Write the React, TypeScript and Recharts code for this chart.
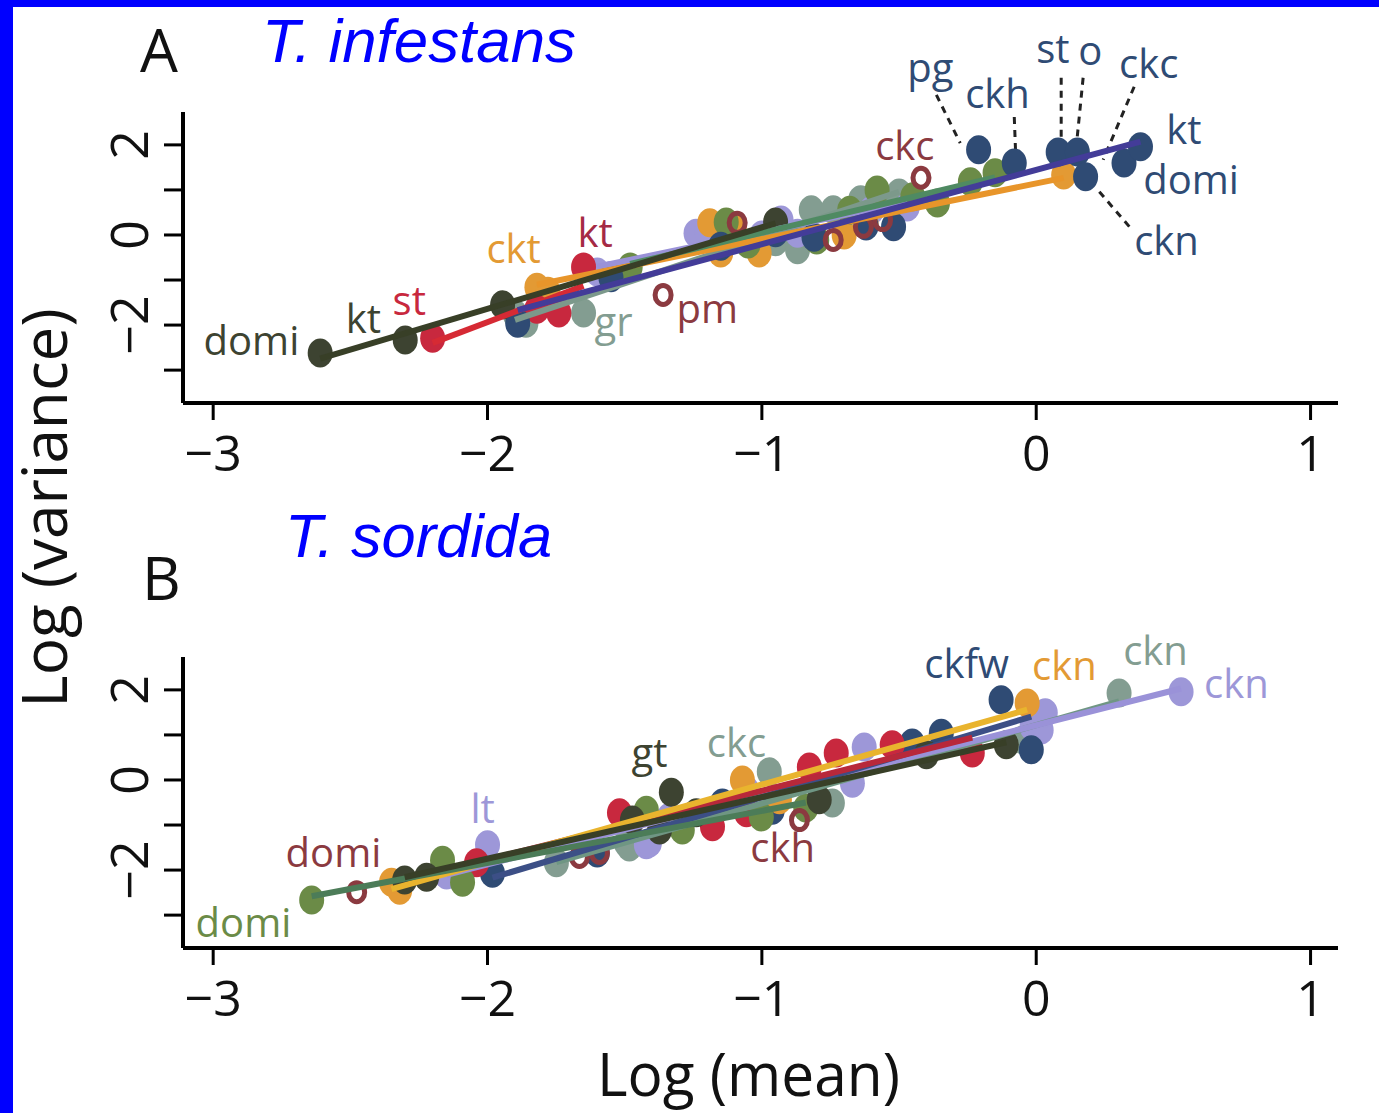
import React from 'react';
import { ScatterChart, Scatter, XAxis, YAxis, ReferenceDot, ReferenceLine } from 'recharts';

type Pt = [number, number];

// ---------- axes ----------
const xTicks = [-3, -2, -1, 0, 1];
const yTicks = [-3, -2, -1, 0, 1, 2];
const xDomain: [number, number] = [-3.11, 1.1];
const yDomain: [number, number] = [-3.73, 2.73];

// ---------- Panel A : T. infestans (log mean, log variance) ----------
const aDark: Pt[] = [[-2.61, -2.62], [-2.30, -2.33], [-1.945, -1.55], [-0.95, 0.29]];
const aRed: Pt[] = [[-2.20, -2.29], [-1.82, -1.65], [-1.74, -1.73], [-1.65, -0.71]];
const aNavy: Pt[] = [[-1.89, -1.96], [-1.55, -0.95], [-1.15, -0.25], [-0.95, 0.05], [-0.81, -0.05], [-0.62, 0.2], [-0.52, 0.18], [-0.21, 1.89], [-0.08, 1.60], [0.08, 1.84], [0.15, 1.84], [0.18, 1.29], [0.32, 1.60], [0.38, 1.96]];
const aOrange: Pt[] = [[-1.82, -1.16], [-1.78, -1.25], [-1.19, 0.27], [-1.15, -0.40], [-1.10, 0.2], [-1.01, -0.40], [-0.70, 0.0], [-0.62, 0.25], [0.10, 1.33]];
const aGray: Pt[] = [[-1.90, -1.75], [-1.86, -1.96], [-1.65, -1.73], [-1.22, -0.05], [-1.15, 0.04], [-0.95, -0.15], [-0.87, -0.33], [-0.82, 0.56], [-0.74, 0.56], [-0.64, 0.78], [-0.58, 0.95], [-0.52, 0.6], [-0.50, 0.93]];
const aLav: Pt[] = [[-1.60, -0.82], [-1.55, -0.9], [-1.24, 0.04], [-1.20, 0.1], [-1.0, 0.0], [-0.93, 0.33], [-0.87, 0.04], [-0.60, 0.55], [-0.47, 0.62]];
const aGreen: Pt[] = [[-1.48, -0.71], [-1.13, 0.29], [-1.05, -0.2], [-0.80, -0.11], [-0.68, 0.55], [-0.58, 1.0], [-0.45, 0.85], [-0.36, 0.71], [-0.24, 1.18], [-0.15, 1.38]];
const aMaroonOpen: Pt[] = [[-1.36, -1.33], [-1.09, 0.27], [-0.74, -0.11], [-0.63, 0.18], [-0.56, 0.33], [-0.42, 1.27]];

const aLabels = [
  { text: 'domi', x: -3.035, y: -2.667, c: 'dark' },
  { text: 'kt', x: -2.517, y: -2.178, c: 'dark' },
  { text: 'st', x: -2.346, y: -1.778, c: 'red' },
  { text: 'ckt', x: -2.004, y: -0.622, c: 'orange' },
  { text: 'kt', x: -1.672, y: -0.267, c: 'crimson' },
  { text: 'gr', x: -1.610, y: -2.244, c: 'gray' },
  { text: 'pm', x: -1.311, y: -1.956, c: 'maroon' },
  { text: 'ckc', x: -0.587, y: 1.667, c: 'maroon' },
  { text: 'pg', x: -0.470, y: 3.40, c: 'navy' },
  { text: 'ckh', x: -0.259, y: 2.822, c: 'navy' },
  { text: 'st', x: 0.0, y: 3.822, c: 'navy' },
  { text: 'o', x: 0.153, y: 3.778, c: 'navy' },
  { text: 'ckc', x: 0.302, y: 3.489, c: 'navy' },
  { text: 'kt', x: 0.474, y: 2.02, c: 'navy' },
  { text: 'domi', x: 0.390, y: 0.90, c: 'navy' },
  { text: 'ckn', x: 0.357, y: -0.444, c: 'navy' },
];

const aLeaders: [Pt, Pt][] = [
  [[-0.364, 3.11], [-0.277, 2.04]],
  [[-0.080, 2.62], [-0.073, 1.49]],
  [[0.091, 3.49], [0.091, 2.11]],
  [[0.171, 3.49], [0.146, 1.96]],
  [[0.357, 3.29], [0.244, 1.67]],
  [[0.230, 0.96], [0.350, 0.11]],
];

// ---------- Panel B : T. sordida ----------
const bGreen: Pt[] = [[-2.641, -2.667], [-2.164, -1.78], [-2.091, -2.27], [-1.421, -0.67], [-1.290, -1.11], [-1.002, -0.82], [-0.84, -0.62]];
const bDark: Pt[] = [[-2.302, -2.22], [-2.222, -2.16], [-1.472, -0.89], [-1.373, -1.11], [-1.330, -0.27], [-1.239, -0.73], [-0.791, -0.44], [-0.40, 0.56], [-0.109, 0.78]];
const bLav: Pt[] = [[-2.149, -2.11], [-2.0, -1.44], [-1.421, -1.44], [-1.41, -1.40], [-1.337, -0.82], [-1.056, -0.22], [-0.670, -0.07], [-0.627, 0.73], [-0.015, 1.18], [0.018, 1.11], [0.033, 1.49], [0.528, 1.96]];
const bGray: Pt[] = [[-1.749, -1.84], [-1.494, -1.40], [-1.483, -1.49], [-0.973, 0.18], [-0.743, -0.51], [-0.05, 0.89], [0.302, 1.93]];
const bOrange: Pt[] = [[-2.350, -2.27], [-2.32, -2.45], [-1.071, 0.0], [-0.936, -0.44], [-0.033, 1.71]];
const bNavy: Pt[] = [[-1.982, -2.07], [-1.60, -1.62], [-1.144, -0.51], [-0.962, -0.67], [-0.452, 0.82], [-0.346, 1.04], [-0.128, 1.78], [-0.018, 0.67]];
const bRed: Pt[] = [[-2.040, -1.84], [-1.519, -0.73], [-1.180, -1.04], [-1.056, -0.73], [-0.827, 0.29], [-0.729, 0.60], [-0.525, 0.78], [-0.233, 0.60]];
const bMaroonOpen: Pt[] = [[-2.477, -2.49], [-1.665, -1.71], [-1.592, -1.62], [-0.863, -0.89]];

const bLabels = [
  { text: 'domi', x: -2.736, y: -1.933, c: 'maroon' },
  { text: 'domi', x: -3.064, y: -3.489, c: 'green' },
  { text: 'lt', x: -2.062, y: -0.956, c: 'lav' },
  { text: 'gt', x: -1.475, y: 0.289, c: 'dark' },
  { text: 'ckc', x: -1.201, y: 0.511, c: 'gray' },
  { text: 'ckh', x: -1.042, y: -1.822, c: 'maroon' },
  { text: 'ckfw', x: -0.408, y: 2.267, c: 'navy' },
  { text: 'ckn', x: -0.015, y: 2.222, c: 'orange' },
  { text: 'ckn', x: 0.317, y: 2.556, c: 'gray' },
  { text: 'ckn', x: 0.612, y: 1.822, c: 'lav' },
];

// ---------- styles ----------
const DOT: Record<string, string> = {
  dark: '#3d4331', red: '#c8283e', crimson: '#a52a45', orange: '#e39a34', gray: '#839d91',
  lav: '#9d97d8', green: '#6b8b47', navy: '#2f4b74', maroon: '#8b3a40',
};
const FONT = "'Open Sans', 'Noto Sans', sans-serif";

type Series = { key: string; data: Pt[]; color: string; line?: string; open?: boolean };

const seriesA: Series[] = [
  { key: 'gray', data: aGray, color: DOT.gray, line: '#7c998b' },
  { key: 'lav', data: aLav, color: DOT.lav, line: '#9a92d8' },
  { key: 'orange', data: aOrange, color: DOT.orange, line: '#e8952a' },
  { key: 'green', data: aGreen, color: DOT.green, line: '#4f8a62' },
  { key: 'red', data: aRed, color: DOT.red, line: '#d62a34' },
  { key: 'navy', data: aNavy, color: DOT.navy, line: '#433c98' },
  { key: 'dark', data: aDark, color: DOT.dark, line: '#383f27' },
  { key: 'maroon', data: aMaroonOpen, color: DOT.maroon, open: true },
];

const seriesB: Series[] = [
  { key: 'gray', data: bGray, color: DOT.gray, line: '#6f9683' },
  { key: 'lav', data: bLav, color: DOT.lav, line: '#9a92d8' },
  { key: 'navy', data: bNavy, color: DOT.navy, line: '#3c4f86' },
  { key: 'red', data: bRed, color: DOT.red, line: '#b8283a' },
  { key: 'orange', data: bOrange, color: DOT.orange, line: '#e9b42e' },
  { key: 'green', data: bGreen, color: DOT.green, line: '#4c7c58' },
  { key: 'dark', data: bDark, color: DOT.dark, line: '#383f27' },
  { key: 'maroon', data: bMaroonOpen, color: DOT.maroon, open: true },
];

const fmt = (v: number) => (v < 0 ? '\u2212' + Math.abs(v) : String(v));
const toObj = (d: Pt[]) => d.map(([x, y]) => ({ x, y }));

const YTick = (props: any) => {
  const { x, y, payload } = props;
  const v = payload.value;
  if (Math.round(v) % 2 !== 0) return <g />;
  const bx = x - 16;
  return (
    <text x={bx} y={y} transform={`rotate(-90 ${bx} ${y})`} textAnchor="middle" fontSize={52} fontFamily={FONT} fill="#111">
      {fmt(v)}
    </text>
  );
};

function Panel({ series, labels, leaders, top }: { series: Series[]; labels: typeof aLabels; leaders: [Pt, Pt][]; top: number }) {
  return (
    <div style={{ position: 'absolute', left: 0, top, width: 1379, height: 500 }}>
      <ScatterChart width={1379} height={500} margin={{ top: 112, right: 41, bottom: 17, left: 83 }}>
        <XAxis
          type="number" dataKey="x" domain={xDomain} ticks={xTicks} allowDataOverflow interval={0}
          height={80} tickSize={17} tickMargin={15}
          axisLine={{ stroke: '#000', strokeWidth: 4 }} tickLine={{ stroke: '#000', strokeWidth: 3 }}
          tick={{ fontSize: 50, fill: '#111', fontFamily: FONT }} tickFormatter={fmt}
        />
        <YAxis
          type="number" dataKey="y" domain={yDomain} ticks={yTicks} allowDataOverflow interval={0}
          width={100} tickSize={19} tickMargin={0}
          axisLine={{ stroke: '#000', strokeWidth: 4 }} tickLine={{ stroke: '#000', strokeWidth: 3 }}
          tick={(p: any) => <YTick {...p} />}
        />
        {series.map((s) => (
          <Scatter
            key={'p' + s.key}
            data={toObj(s.data)}
            isAnimationActive={false}
            shape={(p: any) =>
              s.open ? (
                <ellipse cx={p.cx} cy={p.cy} rx={8} ry={9.5} fill="none" stroke={s.color} strokeWidth={5} />
              ) : (
                <ellipse cx={p.cx} cy={p.cy} rx={12.5} ry={14.5} fill={s.color} />
              )
            }
          />
        ))}
        {series.filter((s) => s.line).map((s) => (
          <Scatter
            key={'l' + s.key}
            data={toObj(s.data)}
            isAnimationActive={false}
            line={{ stroke: s.line, strokeWidth: 6 }}
            lineType="fitting"
            shape={() => <g />}
          />
        ))}
        {leaders.map((seg, i) => (
          <ReferenceLine
            key={'ld' + i}
            segment={[{ x: seg[0][0], y: seg[0][1] }, { x: seg[1][0], y: seg[1][1] }]}
            ifOverflow="visible"
            stroke="#222"
            strokeWidth={3}
            strokeDasharray="7 6"
          />
        ))}
        {labels.map((l, i) => (
          <ReferenceDot
            key={'lb' + i}
            x={l.x}
            y={l.y}
            r={0}
            ifOverflow="visible"
            shape={(p: any) => (
              <text x={p.cx} y={p.cy} fontSize={40} fontFamily={FONT} fill={DOT[l.c]} textAnchor="start">
                {l.text}
              </text>
            )}
          />
        ))}
      </ScatterChart>
    </div>
  );
}

export default function App() {
  return (
    <div style={{ position: 'absolute', left: 0, top: 0, width: 1379, height: 1113, background: '#fff', overflow: 'hidden' }}>
      <Panel series={seriesA} labels={aLabels} leaders={aLeaders} top={0} />
      <Panel series={seriesB} labels={bLabels} leaders={[]} top={545} />
      <svg width={1379} height={1113} style={{ position: 'absolute', left: 0, top: 0, pointerEvents: 'none' }}>
        <text x={140} y={72} fontSize={60} fontFamily={FONT} fill="#111">A</text>
        <text x={142} y={600} fontSize={60} fontFamily={FONT} fill="#111">B</text>
        <text x={262} y={62} fontSize={62} fontStyle="italic" fontFamily="'Liberation Sans', Arial, sans-serif" fill="#0000ff" textLength={314} lengthAdjust="spacingAndGlyphs">T. infestans</text>
        <text x={285} y={557} fontSize={62} fontStyle="italic" fontFamily="'Liberation Sans', Arial, sans-serif" fill="#0000ff" textLength={267} lengthAdjust="spacingAndGlyphs">T. sordida</text>
        <text x={67} y={508} transform="rotate(-90 67 508)" textAnchor="middle" fontSize={62} fontFamily={FONT} fill="#111">Log (variance)</text>
        <text x={597} y={1096} fontSize={60} fontFamily={FONT} fill="#111" textLength={303} lengthAdjust="spacingAndGlyphs">Log (mean)</text>
      </svg>
      <div style={{ position: 'absolute', left: 0, top: 0, width: 1379, height: 7, background: '#0000ff' }} />
      <div style={{ position: 'absolute', left: 0, top: 0, width: 13, height: 1113, background: '#0000ff' }} />
    </div>
  );
}
